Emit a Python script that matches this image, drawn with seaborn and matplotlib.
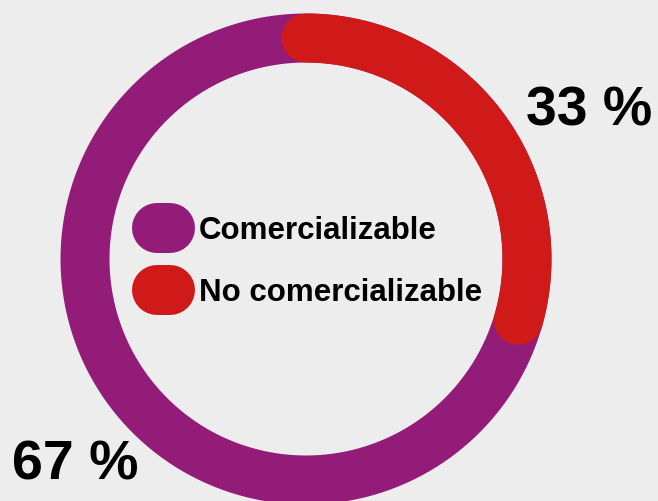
import numpy as np
import seaborn as sns
import matplotlib.pyplot as plt
from matplotlib.lines import Line2D

labels = ["Comercializable", "No comercializable"]
shares = [67, 33]
colors = ["#931c79", "#d01a1a"]
pct_labels = ["67 %", "33 %"]

sns.set_theme(style="white")
plt.rcParams["font.family"] = ["Liberation Sans", "DejaVu Sans"]

bg = "#ededed"
fig = plt.figure(figsize=(6.58, 5.01), dpi=100, facecolor=bg)
ax = fig.add_axes([0, 0, 1, 1])
ax.set_facecolor(bg)
ax.set_xlim(0, 658)
ax.set_ylim(501, 0)
ax.axis("off")

# ring geometry (pixel space)
cx, cy, r = 306, 259, 221
ring_px = 49
ring_lw = ring_px * 0.72

# full ring in the first colour
t = np.linspace(0, 360, 721)
sns.lineplot(x=cx + r * np.cos(np.radians(t)), y=cy - r * np.sin(np.radians(t)),
             sort=False, estimator=None, color=colors[0], linewidth=ring_lw,
             solid_capstyle="butt", ax=ax)

# red arc from 12 o'clock, clockwise, round ends included in its share
cap_deg = np.degrees((ring_px / 2) / r)
span = shares[1] / 100 * 360 - 2 * cap_deg
t2 = 90 - np.linspace(0, span, 300)
sns.lineplot(x=cx + r * np.cos(np.radians(t2)), y=cy - r * np.sin(np.radians(t2)),
             sort=False, estimator=None, color=colors[1], linewidth=ring_lw,
             solid_capstyle="round", ax=ax)

# percentage labels
ax.text(12, 480, pct_labels[0], fontsize=40, fontweight="bold", color="black")
ax.text(526, 125, pct_labels[1], fontsize=40, fontweight="bold", color="black")

# legend with pill markers
handles = [Line2D([0, 1], [0, 0], color=c, lw=36, solid_capstyle="round") for c in colors]
ax.legend(handles, labels, loc="center left", bbox_to_anchor=(157, 262),
          bbox_transform=ax.transData, frameon=False, borderpad=0, borderaxespad=0,
          handlelength=0.42, handletextpad=0.93, labelspacing=1.0,
          labelcolor="black", prop={"weight": "bold", "size": 22.5})

fig.savefig("out.png", dpi=100, facecolor=bg)
